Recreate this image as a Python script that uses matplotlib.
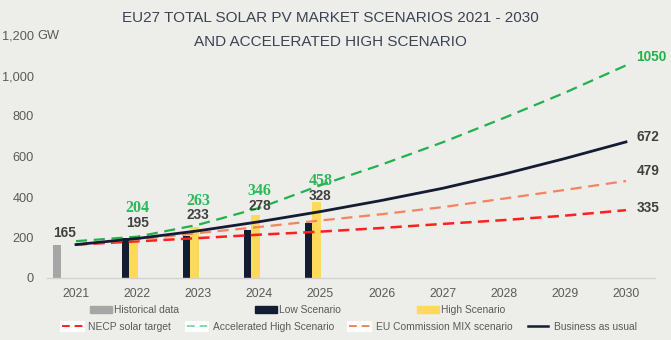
import matplotlib
matplotlib.use("Agg")
import matplotlib.pyplot as plt
from matplotlib.patches import Patch
from matplotlib.lines import Line2D

plt.rcParams['font.family'] = ['Liberation Sans', 'DejaVu Sans']

# Market data (GW, cumulative)
years = [2021, 2022, 2023, 2024, 2025, 2026, 2027, 2028, 2029, 2030]
bar_years = [2022, 2023, 2024, 2025]
historical = 165
low_scenario = [196, 209, 237, 270]
high_scenario = [204, 250, 311, 377]

business_as_usual = [165, 195, 233, 278, 328, 383, 443, 513, 590, 672]
accelerated_high = [182, 204, 263, 346, 458, 560, 670, 790, 915, 1050]
eu_commission_mix = [165, 190, 222, 252, 284, 315, 350, 392, 435, 479]
necp_target = [165, 181, 197, 214, 229, 247, 267, 286, 308, 335]

yticks = [0, 200, 400, 600, 800, 1000, 1200]
ytick_labels = ['0', '200', '400', '600', '800', '1,000', '1,200']

BG = '#EDEDE9'
NAVY = '#131C33'
YELLOW = '#FFD95C'
GREY = '#A6A6A6'
GREEN = '#22B14C'
LABEL_GREEN = '#2DB85A'
SALMON = '#F4845F'
RED = '#FF1F1F'
TEXT = '#404040'
TICK = '#5A5A5A'

W, H = 671, 340
fig = plt.figure(figsize=(W / 100, H / 100), dpi=100, facecolor=BG)
ax = fig.add_axes([47 / W, 1 - 278 / H, 608 / W, 243 / H])
ax.set_facecolor(BG)

# bars sit to the left of each year position
ax.bar(2021 - 0.31, historical, width=0.13, color=GREY, zorder=2)
ax.bar([y - 0.19 for y in bar_years], low_scenario, width=0.115, color=NAVY, zorder=2)
ax.bar([y - 0.06 for y in bar_years], high_scenario, width=0.147, color=YELLOW, zorder=2)

ax.plot(years, necp_target, color=RED, lw=1.8, dashes=(4.5, 2.5), zorder=3)
ax.plot(years, eu_commission_mix, color=SALMON, lw=1.6, dashes=(5, 3), zorder=3)
ax.plot(years, accelerated_high, color=GREEN, lw=1.6, dashes=(5, 3), zorder=3)
ax.plot(years, business_as_usual, color=NAVY, lw=2.0, zorder=4)

# value labels
ax.annotate(str(historical), (2021, historical), xytext=(-8, 8.6), textcoords='offset points',
            ha='center', va='center', fontsize=9.8, fontweight='bold', color=TEXT, zorder=5)
for i in range(1, 5):
    ax.annotate(str(business_as_usual[i]), (years[i], business_as_usual[i]), xytext=(0, 11.5),
                textcoords='offset points', ha='center', va='center', fontsize=9.8,
                fontweight='bold', color=TEXT, zorder=5)
    ax.annotate(str(accelerated_high[i]), (years[i], business_as_usual[i]), xytext=(0, 21.8),
                textcoords='offset points', ha='center', va='center', fontsize=11.5,
                fontweight='bold', color=LABEL_GREEN, family='Liberation Serif', zorder=5)

end_labels = [(accelerated_high[-1], 6, GREEN), (business_as_usual[-1], 3.6, TEXT),
              (eu_commission_mix[-1], 7.4, TEXT), (necp_target[-1], 1.5, TEXT)]
for val, dy, col in end_labels:
    ax.annotate(str(val), (years[-1], val), xytext=(7.5, dy), textcoords='offset points',
                ha='left', va='center', fontsize=9.8, fontweight='bold', color=col)

ax.set_xlim(2021 - 29 / 61.1, 2030 + 29 / 61.1)
ax.set_ylim(0, 1200)
ax.set_xticks(years)
ax.set_xticklabels([str(y) for y in years])
ax.set_yticks(yticks)
ax.set_yticklabels(ytick_labels)
ax.tick_params(axis='x', length=0, pad=7, labelsize=8.8, labelcolor=TICK)
ax.tick_params(axis='y', length=0, pad=9.4, labelsize=9.2, labelcolor=TICK)
for s in ['top', 'right', 'left']:
    ax.spines[s].set_visible(False)
ax.spines['bottom'].set_color('#D2D2D0')
ax.spines['bottom'].set_linewidth(1)

fig.text(37 / W, 1 - 36 / H, 'GW', ha='left', va='center', fontsize=9.2, color=TICK)

fig.text(330 / W, 1 - 18 / H, 'EU27 TOTAL SOLAR PV MARKET SCENARIOS 2021 - 2030',
         ha='center', va='center', fontsize=11, color='#3C4354')
fig.text(330 / W, 1 - 42 / H, 'AND ACCELERATED HIGH SCENARIO',
         ha='center', va='center', fontsize=11, color='#3C4354')

# legend rows
fs = 7.4
row1 = [Patch(color=GREY), Patch(color=NAVY), Patch(color=YELLOW)]
fig.legend(row1, ['Historical data', 'Low Scenario', 'High Scenario'],
           loc='center left', bbox_to_anchor=(90 / W, 1 - 310 / H), ncol=3, frameon=False,
           fontsize=fs, labelcolor=TICK, borderpad=0, borderaxespad=0,
           handlelength=2.15, handleheight=0.6, handletextpad=0.2, columnspacing=7.4)


def boxed(color, dashes):
    box = Patch(facecolor='white', edgecolor='white', linewidth=3)
    line = Line2D([], [], color=color, lw=1.4, dashes=dashes)
    return (box, line)


row2 = [boxed(RED, (4, 2.5)), boxed('#7FDDA5', (4, 2.5)), boxed(SALMON, (4, 2.5)),
        Line2D([], [], color=NAVY, lw=1.8)]
fig.legend(row2, ['NECP solar target', 'Accelerated High Scenario',
                  'EU Commission MIX scenario', 'Business as usual'],
           loc='center left', bbox_to_anchor=(62 / W, 1 - 327 / H), ncol=4, frameon=False,
           fontsize=fs, labelcolor=TICK, borderpad=0, borderaxespad=0,
           handlelength=2.0, handleheight=0.7, handletextpad=0.55, columnspacing=1.5)

fig.savefig('out.png', dpi=100, facecolor=BG)
